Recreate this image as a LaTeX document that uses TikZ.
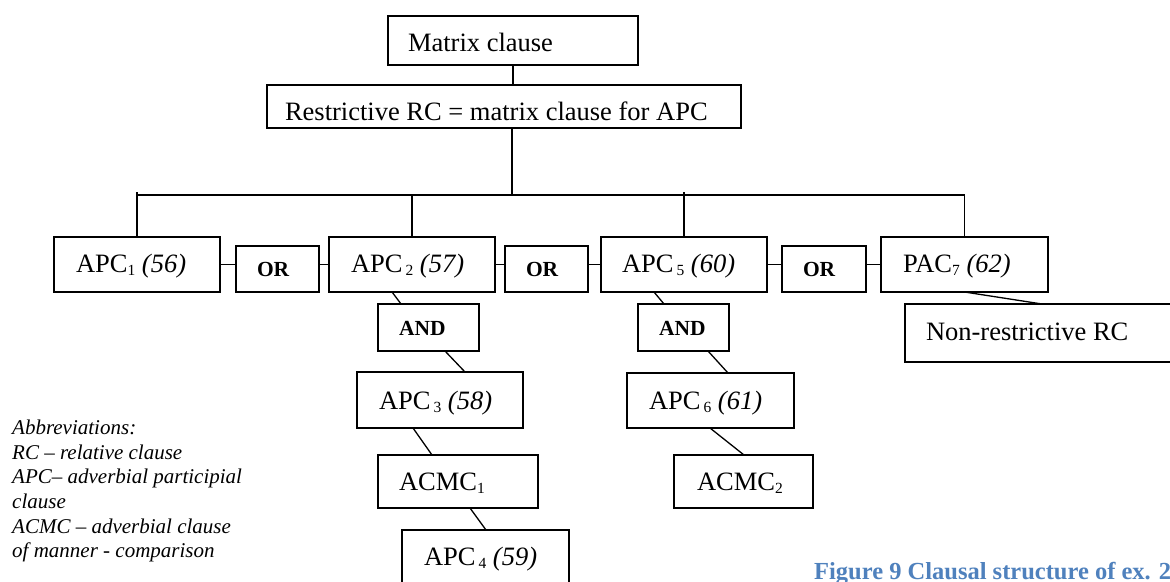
\documentclass[tikz,border=0pt]{standalone}
\usepackage{fontspec}
\setmainfont{Liberation Serif}
\usetikzlibrary{calc}
\definecolor{capblue}{HTML}{4F81BD}
\newcommand\sub[1]{\raisebox{-3.5pt}{\fontsize{15.5}{15.5}\selectfont #1}}
% name, style, x, y, width, height, left pad, baseline drop, text
\newcommand\bx[9]{\node[#2, minimum width=#5pt, minimum height=#6pt, anchor=north west] (#1) at (#3,#4) {\makebox[#5pt][l]{\hspace*{#7pt}\raisebox{-#8pt}[0pt][0pt]{#9}}};}
\tikzset{
  box/.style={draw, line width=1.3pt, inner sep=0pt, outer sep=0pt, font=\fontsize{26.5}{30}\selectfont},
  opbox/.style={box, font=\fontsize{21.5}{25}\selectfont\bfseries},
  link/.style={line width=1.3pt},
  legtxt/.style={inner sep=0pt, align=left, font=\fontsize{21}{24.6}\selectfont\itshape},
  captxt/.style={inner sep=0pt, font=\fontsize{24.5}{28}\selectfont\bfseries, text=capblue}
}
\begin{document}
\begin{tikzpicture}[x=1pt, y=-1pt]
\useasboundingbox (0,0) rectangle (1170,581);
\clip (0,0) rectangle (1170,581);
\fill[white] (0,0) rectangle (1170,581);

\bx{matrix}{box}{388}{16}{250}{49}{20}{11}{Matrix clause}
\bx{restr}{box}{267}{85}{474}{43}{18}{14}{Restrictive RC = matrix clause for APC}
\bx{apc1}{box}{54}{237}{166}{55}{22}{7.5}{APC\sub{1} \textit{(56)}}
\bx{or1}{opbox}{236}{246}{83}{46}{21}{7.7}{OR}
\bx{apc2}{box}{329}{237}{166}{55}{22}{7.5}{APC\kern3pt\sub{2} \textit{(57)}}
\bx{or2}{opbox}{505}{246}{83}{46}{21}{7.7}{OR}
\bx{apc5}{box}{601}{237}{166}{55}{21}{7.5}{APC\kern3pt\sub{5} \textit{(60)}}
\bx{or3}{opbox}{782}{246}{84}{46}{21}{7.7}{OR}
\bx{pac7}{box}{881}{237}{167}{55}{22}{7.5}{PAC\sub{7} \textit{(62)}}
\bx{and1}{opbox}{378}{304}{101}{47}{21}{7.5}{AND}
\bx{and2}{opbox}{638}{304}{91}{47}{21}{7.5}{AND}
\bx{nonr}{box}{905}{304}{300}{58}{21}{7}{Non-restrictive RC}
\bx{apc3}{box}{357}{372}{166}{56}{22}{9}{APC\kern3pt\sub{3} \textit{(58)}}
\bx{acmc1}{box}{378}{455}{160}{53}{21}{8.5}{ACMC\sub{1}}
\bx{apc4}{box}{402}{530}{167}{56}{22}{7}{APC\kern3pt\sub{4} \textit{(59)}}
\bx{apc6}{box}{627}{373}{167}{55}{22}{8.5}{APC\kern3pt\sub{6} \textit{(61)}}
\bx{acmc2}{box}{674}{455}{139}{53}{23}{8.5}{ACMC\sub{2}}

\coordinate (hub) at (512,195);
\coordinate (top) at (512,192);

\draw[link] (matrix.south) -- (matrix.south |- restr.north);
\draw[link] (restr.south -| hub) -- (hub);
\draw[link] (apc1.north |- top) -- (apc1.north);
\draw[link] (apc1.north |- hub) -- (pac7.north |- hub) -- (pac7.north);
\draw[link] (apc2.north |- hub) -- (apc2.north);
\draw[link] (apc5.north |- top) -- (apc5.north);

\draw[link] (apc1.east) -- (apc1.east -| or1.west);
\draw[link] (or1.east |- apc1.east) -- (apc2.west |- apc1.east);
\draw[link] (apc2.east) -- (apc2.east -| or2.west);
\draw[link] (or2.east |- apc2.east) -- (apc5.west |- apc2.east);
\draw[link] (apc5.east) -- (apc5.east -| or3.west);
\draw[link] (or3.east |- apc5.east) -- (pac7.west |- apc5.east);

\draw[link] ($(apc2.south west)+(63,0)$) -- ($(and1.north west)+(23,0)$);
\draw[link] ($(and1.south west)+(67,0)$) -- ($(apc3.north west)+(108,0)$);
\draw[link] ($(apc3.south west)+(56,0)$) -- ($(acmc1.north west)+(54,0)$);
\draw[link] ($(acmc1.south west)+(92,0)$) -- ($(apc4.north west)+(84,0)$);
\draw[link] ($(apc5.south west)+(53,0)$) -- ($(and2.north west)+(26,0)$);
\draw[link] ($(and2.south west)+(70,0)$) -- ($(apc6.north west)+(101,0)$);
\draw[link] ($(apc6.south west)+(83,0)$) -- ($(acmc2.north west)+(70,0)$);
\draw[link] (pac7.south) -- ($(nonr.north west)+(137,0)$);

\node[legtxt, anchor=north west] (legend) at (12,420) {Abbreviations:\\RC – relative clause\\APC– adverbial participial\\clause\\ACMC – adverbial clause\\of manner - comparison};

\node[captxt, anchor=base west] (caption) at (814,579) {Figure 9 Clausal structure of ex. 25};
\end{tikzpicture}
\end{document}
